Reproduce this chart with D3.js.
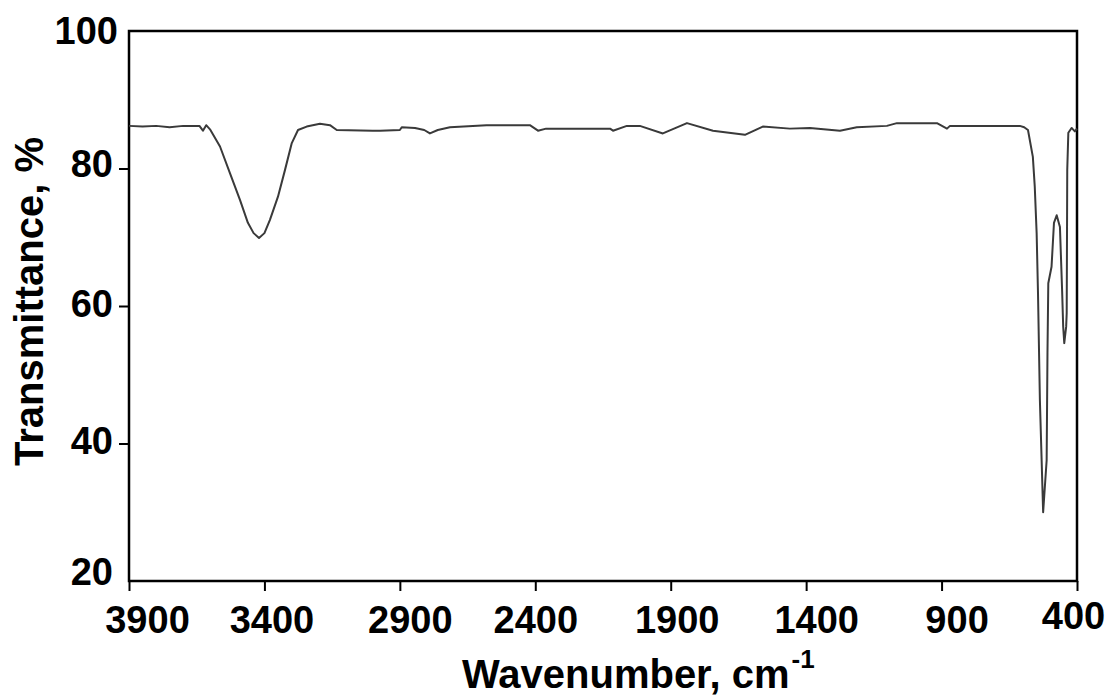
<!DOCTYPE html>
<html>
<head>
<meta charset="utf-8">
<script src="https://cdn.jsdelivr.net/npm/d3@7"></script>
<style>
  html, body { margin: 0; padding: 0; background: #fff; }
  svg text { font-family: "Liberation Sans", Arial, sans-serif; font-weight: bold; fill: #000; }
</style>
</head>
<body>
<svg id="chart" width="1110" height="699"></svg>
<script>
// FTIR spectrum
const wavenumber = [
  3900, 3850, 3800, 3750, 3700, 3640, 3627, 3615, 3601, 3564,
  3527, 3490, 3461, 3440, 3420, 3400, 3380, 3350, 3324, 3299,
  3276, 3244, 3195, 3158, 3133, 3000, 2973, 2900, 2893, 2844,
  2810, 2789, 2760, 2715, 2580, 2420, 2390, 2360, 2309, 2124,
  2113, 2062, 2014, 1929, 1840, 1744, 1626, 1560, 1460, 1386,
  1275, 1213, 1102, 1065, 917, 880, 869, 611, 595, 581,
  563, 556, 549, 544, 537, 525, 512, 509, 506, 500,
  494, 485, 475, 463, 455, 451, 447, 440, 438, 436,
  432, 420, 408, 400
];
const transmittance = [
  86.2, 86.1, 86.2, 86.0, 86.2, 86.2, 85.5, 86.3, 85.7, 83.2,
  79.3, 75.4, 72.1, 70.6, 69.9, 70.6, 72.5, 75.9, 79.8, 83.7,
  85.6, 86.1, 86.5, 86.3, 85.6, 85.5, 85.5, 85.6, 86.0, 85.9,
  85.6, 85.1, 85.6, 86.0, 86.3, 86.3, 85.5, 85.8, 85.8, 85.8,
  85.5, 86.2, 86.2, 85.1, 86.6, 85.5, 84.9, 86.1, 85.8, 85.9,
  85.5, 86.0, 86.2, 86.6, 86.6, 85.8, 86.2, 86.2, 86.0, 85.6,
  81.7, 77.4, 70.6, 61.9, 46.3, 30.0, 37.6, 53.2, 63.3, 64.5,
  65.7, 72.1, 73.2, 71.5, 62.3, 57.0, 54.6, 57.0, 59.0, 79.8,
  85.2, 85.9, 85.4, 85.8
];
const xTicks = [3900, 3400, 2900, 2400, 1900, 1400, 900, 400];
const yTicks = [20, 40, 60, 80, 100];

const svg = d3.select("#chart");
const M = { left: 129, right: 1077, top: 31, bottom: 581 };

const x = d3.scaleLinear().domain([3900, 400]).range([M.left, M.right]);
const y = d3.scaleLinear().domain([20, 100]).range([M.bottom, M.top]);

// label nudges, as in the picture
const xLabelDx = { 3900: 18, 3400: 7, 2900: 10, 2400: 0, 1900: 6, 1400: 10, 900: 15, 400: -4 };
const xLabelDy = { 400: -4 };
const yLabelDy = { 100: -1, 80: -5, 60: -3, 40: -3, 20: -10 };

// x axis
const xAxis = svg.append("g")
  .attr("transform", `translate(0,${M.bottom})`)
  .call(d3.axisBottom(x).tickValues(xTicks).tickSize(10).tickPadding(14).tickFormat(d3.format("d")));
xAxis.select(".domain").remove();
xAxis.selectAll(".tick line").attr("stroke", "#000").attr("stroke-width", 2);
xAxis.selectAll(".tick text")
  .attr("font-size", 38)
  .attr("y", 52)
  .attr("dy", (d) => (xLabelDy[d] || 0) + "px")
  .attr("dx", (d) => xLabelDx[d] + "px");

// y axis
const yAxis = svg.append("g")
  .attr("transform", `translate(${M.left},0)`)
  .call(d3.axisLeft(y).tickValues(yTicks).tickSize(10).tickPadding(5));
yAxis.select(".domain").remove();
yAxis.selectAll(".tick line")
  .attr("stroke", "#000").attr("stroke-width", 2)
  .attr("display", (d) => (d === 20 || d === 100) ? "none" : null);
yAxis.selectAll(".tick text")
  .attr("font-size", 38)
  .attr("x", (d) => d === 100 ? -11 : -16)
  .attr("dy", (d) => (yLabelDy[d] + 13) + "px");

// frame
svg.append("rect")
  .attr("x", M.left).attr("y", M.top)
  .attr("width", M.right - M.left).attr("height", M.bottom - M.top)
  .attr("fill", "none").attr("stroke", "#000").attr("stroke-width", 2.5);

// spectrum
const pts = wavenumber.map((w, i) => [w, transmittance[i]]);
svg.append("path")
  .datum(pts)
  .attr("fill", "none")
  .attr("stroke", "#3a3a3a")
  .attr("stroke-width", 2)
  .attr("stroke-linejoin", "round")
  .attr("d", d3.line().x((d) => x(d[0])).y((d) => y(d[1])));

// axis titles
const xt = svg.append("text")
  .attr("x", 462).attr("y", 688)
  .attr("font-size", 40);
xt.append("tspan").text("Wavenumber, cm");
xt.append("tspan").attr("font-size", 26).attr("dx", 2).attr("dy", -20).text("-1");

svg.append("text")
  .attr("transform", `translate(43,${(130 + 473) / 2}) rotate(-90)`)
  .attr("text-anchor", "middle")
  .attr("font-size", 40)
  .text("Transmittance, %");
</script>
</body>
</html>
